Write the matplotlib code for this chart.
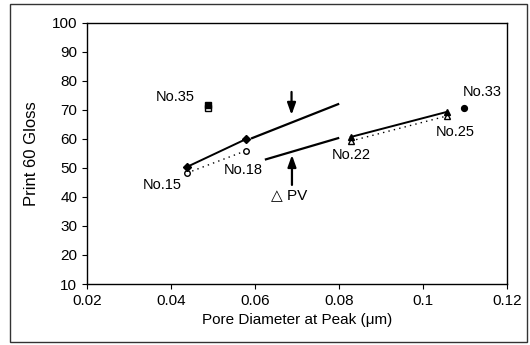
import matplotlib
matplotlib.use("Agg")
import matplotlib.pyplot as plt
from matplotlib.patches import Rectangle

plt.rcParams['font.family'] = ['Liberation Sans', 'DejaVu Sans']

# Samples: pore diameter at peak (um) and print gloss (60 deg)
samples = ['No.15', 'No.18', 'No.35', 'No.22', 'No.25', 'No.33']
pore_diam = [0.0438, 0.0579, 0.0487, 0.0828, 0.1056, 0.1098]
gloss_a = [50.3, 59.9, 71.5, 60.6, 69.2, 70.5]     # filled markers
gloss_b = [48.2, 55.9, 70.5, 59.2, 67.8, None]     # open markers
marker_a = ['D', 'D', 's', '^', '^', 'o']
marker_b = ['o', 'o', 's', '^', '^', None]

# Sample label anchor positions (x, y)
label_x = [0.0378, 0.0571, 0.0410, 0.0830, 0.1076, 0.1140]
label_y = [44.1, 49.2, 74.4, 54.4, 62.4, 76.0]

# Connected pairs (indices into samples)
pairs = [(0, 1), (3, 4)]

# Trend guide segments: ((x0, x1), (y0, y1))
guide_upper = ((0.0593, 0.0798), (60.2, 71.9))
guide_lower = ((0.0626, 0.0798), (52.9, 60.2))

# Arrows: (x, y_tail, y_head)
arrow_down = (0.0687, 76.1, 68.2)
arrow_up = (0.0688, 44.1, 54.4)
pv_label = (0.0681, 40.6, '\u25b3 PV')

x_ticks = [0.02, 0.04, 0.06, 0.08, 0.1, 0.12]
x_tick_labels = ['0.02', '0.04', '0.06', '0.08', '0.1', '0.12']
y_ticks = [10, 20, 30, 40, 50, 60, 70, 80, 90, 100]

fig = plt.figure(figsize=(5.30, 3.45), dpi=100)
ax = fig.add_axes([87 / 530, 1 - 284 / 345, (507 - 87) / 530, (284 - 22.5) / 345])

fs = 10.5
for i, j in pairs:
    ax.plot([pore_diam[i], pore_diam[j]], [gloss_a[i], gloss_a[j]],
            color='black', lw=1.4, zorder=2)
    ax.plot([pore_diam[i], pore_diam[j]], [gloss_b[i], gloss_b[j]],
            color='black', lw=1.0, ls=(0, (1, 3)), zorder=2)

for xv, ya, ma in zip(pore_diam, gloss_a, marker_a):
    ax.plot([xv], [ya], marker=ma, ms=4.2, mfc='black', mec='black',
            ls='none', zorder=4)
for xv, yb, mb in zip(pore_diam, gloss_b, marker_b):
    if yb is None:
        continue
    ax.plot([xv], [yb], marker=mb, ms=4.0, mfc='white', mec='black',
            mew=1.0, ls='none', zorder=3)

for g in (guide_upper, guide_lower):
    ax.plot(g[0], g[1], color='black', lw=1.6, zorder=2)

for xa, yt, yh in (arrow_down, arrow_up):
    ax.annotate('', xy=(xa, yh), xytext=(xa, yt),
                arrowprops=dict(arrowstyle='-|>,head_length=0.7,head_width=0.25',
                                color='black', lw=1.6, shrinkA=0, shrinkB=0))

ax.text(pv_label[0], pv_label[1], pv_label[2], fontsize=fs + 0.5,
        ha='center', va='center')

for name, lx, ly in zip(samples, label_x, label_y):
    ax.text(lx, ly, name, fontsize=fs, ha='center', va='center')

ax.set_xlim(0.02, 0.12)
ax.set_ylim(10, 100)
ax.set_xticks(x_ticks)
ax.set_xticklabels(x_tick_labels)
ax.set_yticks(y_ticks)
ax.tick_params(direction='out', length=3.5, width=0.8, labelsize=11, pad=3.5)
for s in ax.spines.values():
    s.set_linewidth(1.0)

ax.set_xlabel('Pore Diameter at Peak (\u03bcm)', fontsize=11, labelpad=4)
ax.set_ylabel('Print 60 Gloss', fontsize=12, labelpad=9)

# Outer chart frame
fig.patches.append(Rectangle((10 / 530, 1 - 342 / 345), 517 / 530, 338 / 345,
                             transform=fig.transFigure, fill=False,
                             edgecolor='#333333', lw=1.0))

fig.savefig('out.png', dpi=100)
